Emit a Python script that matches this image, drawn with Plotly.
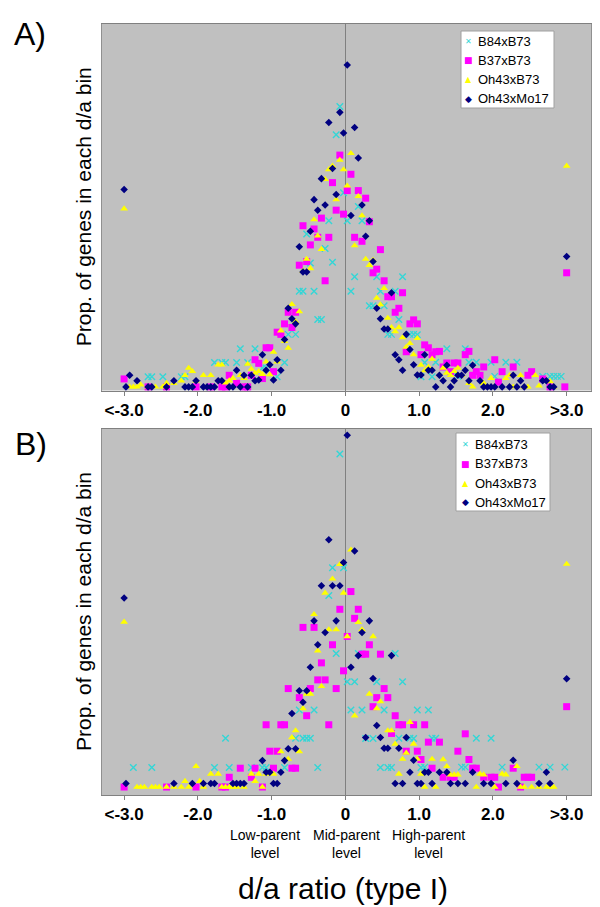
import plotly.graph_objects as go

N = None

# ---------------- data ----------------
# d/a bins of width 0.05 from -3.0 to 3.0 (bin centres), plus the two open-ended bins
BIN_CENTERS = [round(-2.975 + 0.05 * k, 3) for k in range(120)]
OUTLIER_X = [-3.0, 3.0]            # "<-3.0" and ">3.0" bins
TICK_VALS = [-3, -2, -1, 0, 1, 2, 3]
TICK_TEXT = ["&lt;-3.0", "-2.0", "-1.0", "0", "1.0", "2.0", "&gt;3.0"]
SERIES_NAMES = ["B84xB73", "B37xB73", "Oh43xB73", "Oh43xMo17"]

# Panel A: proportion of genes (%) per bin
A_B84 = [
    N, N, N, N, N, N, 0.28, 0.28, N, N,
    0.28, N, N, N, N, 0.28, 0.28, N, N, N,
    N, N, N, N, 0.67, N, 0.67, 0.67, N, N,
    0.67, 1.05, N, 0.67, N, 1.05, N, 0.52, 0.52, N,
    N, 0.28, N, 0.67, 1.45, N, 1.45, 2.64, 2.64, 4.22,
    3.42, 2.64, 1.86, 1.86, 3.82, 4.59, 3.44, 6.96, 7.74, 5.36,
    4.59, 2.64, 3.04, 4.98, 4.59, N, 2.24, 2.24, 3.04, 2.64,
    2.24, 1.45, 1.45, 2.64, 1.86, 3.04, N, 1.45, 1.45, 1.44,
    0.28, 0.67, N, 0.28, 0.68, N, N, 1.05, N, N,
    0.29, N, 1.05, 0.68, N, 0.68, N, N, N, 0.68,
    0.29, N, N, 0.68, N, N, 0.68, N, N, N,
    N, N, N, 0.29, N, 0.29, 0.29, 0.29, 0.29, N,
]
A_B84_OUT = [N, N]

A_B37 = [
    N, N, N, N, N, N, 0, N, N, N,
    N, 0, N, N, N, N, N, N, N, 0,
    N, N, N, 0, N, N, 0, 0, 0.32, N,
    0.1, N, 0, 0, 0.32, 0.75, 0.65, 0.23, 1.08, 1.08,
    0.42, 1.51, 1.45, 1.74, 2.06, 1.64, 2.06, 3.36, 4.45, 3.46,
    3.92, 4.36, 4.13, 4.66, 2.93, 4.13, 5.64, 4.88, 6.40, 4.77,
    5.42, 5.87, 4.13, 5.42, 4.02, 5.21, 4.56, 3.15, 3.25, 3.79,
    2.93, 2.49, 2.49, 2.06, 2.17, 2.60, 0.97, 1.74, 1.85, 1.74,
    0.89, 1.16, 1.08, 0.89, 0.97, 0.98, 0.55, 0.66, 0.42, 0.66,
    0.66, N, 0.89, 0.98, 0.32, 0.42, 0.32, 0.55, N, N,
    0.75, 0.13, 0.42, N, N, 0.55, N, N, N, 0.32,
    0.42, N, N, 0.22, N, 0, N, N, N, 0,
]
A_B37_OUT = [0.22, 3.15]

A_OH43B73 = [
    N, 0, 0, 0, 0.06, N, 0, N, 0, N,
    0, 0.1, N, 0.1, N, 0.17, 0.32, 0.52, 0.43, 0.17,
    N, 0.32, N, 0.32, N, 0.61, 0.61, 0.11, 0.17, 0.24,
    N, 0.32, 0.24, 0.63, 0.49, 0.38, 0.43, 0.35, 0.69, 0.34,
    0.96, 0.69, 1.55, 1.26, 1.07, 2.28, 1.80, 2.08, 3.2, 3.53,
    3.27, 4.62, 4.17, 3.80, 5.73, 6.0, 6.1, 5.17, 6.26, 6.0,
    5.55, 6.45, 3.90, 5.26, 4.73, 3.53, 3.36, 3.5, 2.45, 2.27,
    2.72, 1.90, 1.64, 1.53, 1.64, 1.36, 1.1, 1.2, 0.89, 1.34,
    0.6, 0.45, 0.55, 0.77, N, N, 0.52, 0.38, 0.32, 0.43,
    0.52, 0.32, N, 0.1, 0, N, N, 0.1, N, 0.24,
    N, N, N, 0.24, 0.32, 0, N, 0.32, 0, 0,
    N, 0.32, 0.03, N, N, 0.15, 0, N, N, N,
]
A_OH43B73_OUT = [4.92, 6.1]

A_OH43MO17 = [
    0, 0.32, N, 0.17, N, N, 0, 0, N, N,
    N, 0, N, 0.17, N, N, 0, 0, 0, 0.17,
    N, 0, 0, 0, 0, 0.17, 0.17, N, 0, 0,
    0.46, 0, 0.32, 0, 0.32, 0.17, 0.19, 0.89, 0.46, 0.61,
    0.19, 0.75, 0.46, 1.31, 2.17, 1.88, 1.74, 3.87, 3.17, 3.17,
    4.30, 5.17, 4.88, 5.75, 5.02, 7.30, 6.03, 5.31, 7.58, 7.01,
    8.89, 4.73, 7.16, 6.32, 5.02, 4.16, 4.59, 3.46, 2.17, 1.88,
    1.60, 1.60, 2.60, 0.89, 0.75, 0.46, 1.45, 1.03, 0.61, 0.33,
    0.33, 0.89, 0.46, 0.46, 0, 0.32, 0.17, 0.60, 0, 0.17,
    0.32, 0.32, 0.46, 0.17, 0.60, N, 0.17, 0, 0, 0,
    0, N, 0, N, 0, 0.32, 0, 0.17, 0, N,
    N, N, N, 0.17, 0.17, 0, 0, N, N, N,
]
A_OH43MO17_OUT = [5.45, 3.6]

# Panel B
B_B84 = [
    N, N, 0.54, N, N, N, N, 0.54, N, N,
    N, N, N, N, N, N, N, N, N, N,
    N, N, N, N, 0.54, N, N, 1.35, 0.54, N,
    N, N, N, N, 0.54, N, N, 0.54, 0.54, N,
    N, N, N, 0.54, N, N, 1.35, 2.13, 1.35, 1.35,
    1.35, 2.13, 0.54, N, N, 5.29, 6.06, 3.69, 9.20, 6.06,
    2.91, 2.13, 2.91, 3.69, 2.13, 1.34, N, 1.34, 2.91, 0.54,
    2.13, 0.54, 0.54, 3.69, 1.35, 2.91, N, 1.35, 1.34, 2.13,
    0.54, 0.55, 2.13, 1.35, 1.35, N, N, N, N, N,
    N, 0.55, 0.55, N, N, 1.35, N, N, N, 1.35,
    N, N, 0.55, N, N, N, N, N, N, N,
    N, N, 0.55, N, N, 0.55, N, N, N, 0.55,
]
B_B84_OUT = [N, N]

B_B37 = [
    N, N, N, N, N, N, N, N, N, N,
    N, 0, N, N, N, N, N, N, N, 0,
    N, N, N, N, N, N, 0, 0, 0.27, N,
    N, 0.52, N, N, 0.27, 0.52, N, 0, 1.72, 0.99,
    0.52, 0.99, 1.72, 1.72, 2.72, 0.52, 0.52, 2.47, 4.41, 1.97,
    2.72, 4.41, 2.96, 3.43, 2.96, 1.72, 3.93, 2.72, 4.91, 3.21,
    4.16, 5.40, 4.66, 4.91, 3.67, 3.67, 3.93, 2.22, 2.47, 3.67,
    2.72, 2.47, 1.48, 1.97, 1.72, 1.72, 0.99, N, 1.72, 0.99,
    0.76, 1.72, 1.24, 0.52, N, 1.24, 0.27, N, 0.27, 0.27,
    0.99, N, 1.47, 0.76, 0.52, 0.52, N, 0.27, N, 0.27,
    0.27, 0, N, N, N, 0.52, N, 0, 0.27, 0.27,
    0.27, N, N, N, N, N, N, N, N, N,
]
B_B37_OUT = [0, 2.22]

B_OH43B73 = [
    N, N, N, 0, 0, 0, N, 0, 0, 0,
    N, 0, N, 0, N, 0, 0.16, 0, N, 0.57,
    0.16, 0, N, 0.36, N, 0.36, 0, 0, 0, 0,
    0, N, 0, N, 0.36, 0.16, 0.36, 0, 0.36, N,
    0.36, N, 0.98, N, 0.77, 1.37, 1.56, 0.98, 2.17, 2.57,
    2.57, 4.77, 3.76, 2.78, 5.36, 4.35, 5.75, 4.35, 6.15, 5.36,
    4.16, 6.55, 1.97, 4.55, 4.35, N, 2.57, 4.16, 2.17, 2.36,
    N, 1.56, 1.56, 1.19, 0.36, 0.77, 0.94, 1.79, 1.19, 0.77,
    0.36, 0, N, 0.77, 0, N, 0.76, 0.57, 0.34, 0.34,
    0.34, N, N, N, N, 0, 0.36, 0.34, N, N,
    0, N, 0.36, 0.34, N, N, 0.57, 0, 0, N,
    0, N, 0, N, 0, 0, 0, N, N, N,
]
B_OH43B73_OUT = [4.56, 6.16]

B_OH43MO17 = [
    0.1, N, N, N, N, N, N, N, N, N,
    N, N, N, 0.1, N, N, N, N, 0.1, N,
    N, 0.1, N, 0.1, 0.1, N, N, N, N, 0.1,
    0.1, 0.1, 0.1, N, N, N, N, 0.73, 0.41, 0.41,
    0.1, 0.1, 0.41, 0.73, 1.06, 2.03, 1.06, 2.66, 2.34, 2.66,
    3.31, 4.59, 3.93, 5.56, 4.27, 6.83, 5.56, 4.59, 5.56, 6.20,
    9.72, 3.31, 6.52, 3.63, 4.27, 1.37, 4.59, 3.0, 1.70, 1.37,
    1.07, 1.07, 3.63, 0.1, 1.07, 0.1, 1.37, 0.41, 0.74, 0.1,
    0.1, 0.41, 0.41, 0.1, N, 0.41, N, 0.41, 0.1, N,
    0.1, N, 0.1, N, 0.41, N, N, 0.1, N, 0.1,
    N, N, N, 0.1, N, 0.74, 0.1, N, N, N,
    N, N, 0.1, N, 0.41, 0.1, N, N, N, N,
]
B_OH43MO17_OUT = [5.22, 2.99]

PANEL_A = [(A_B84, A_B84_OUT), (A_B37, A_B37_OUT), (A_OH43B73, A_OH43B73_OUT), (A_OH43MO17, A_OH43MO17_OUT)]
PANEL_B = [(B_B84, B_B84_OUT), (B_B37, B_B37_OUT), (B_OH43B73, B_OH43B73_OUT), (B_OH43MO17, B_OH43MO17_OUT)]

# ---------------- styling ----------------
W, H = 600, 907
ML, MR, MT, MB = 94, 17, 16, 120
PW = W - ML - MR
PH = H - MT - MB
BOTTOM_PX = H - MB


def pxx(x):
    return (x - ML) / PW


def pxy(y):
    return (BOTTOM_PX - y) / PH


STYLES = [
    dict(symbol="x-thin", size=6.5, color="#33D6D6", line=dict(width=1.4, color="#33D6D6")),
    dict(symbol="square", size=7, color="#FF00FF", line=dict(width=0)),
    dict(symbol="triangle-up", size=6.8, color="#FFFF00", line=dict(width=0)),
    dict(symbol="diamond", size=5.8, color="#000080", line=dict(width=0)),
]
GLYPHS = [("✕", "#33D6D6", 8), ("■", "#FF00FF", 9), ("▲", "#FFFF00", 8), ("◆", "#000080", 9)]

fig = go.Figure()
for panel, (xa, ya) in ((PANEL_A, ("x", "y")), (PANEL_B, ("x2", "y2"))):
    for name, (vals, outs), st in zip(SERIES_NAMES, panel, STYLES):
        fig.add_trace(go.Scatter(
            x=BIN_CENTERS + OUTLIER_X, y=vals + outs, mode="markers", name=name,
            marker=st, xaxis=xa, yaxis=ya, showlegend=False, cliponaxis=False,
        ))

top_a, bot_a = 16, 382.5
top_b, bot_b = 421, 787

xcommon = dict(
    range=[-3.30, 3.33], tickvals=TICK_VALS, ticktext=TICK_TEXT, ticks="outside",
    ticklen=4, tickcolor="#808080", showgrid=False, zeroline=True, zerolinecolor="#808080",
    zerolinewidth=1, showline=True, linecolor="#808080", linewidth=1, mirror=True,
    tickfont=dict(family="Arial", size=17, color="black", weight="bold"), fixedrange=True,
)
ycommon = dict(showticklabels=False, showgrid=False, zeroline=False, showline=True,
               linecolor="#909090", linewidth=1, mirror=True, ticks="", fixedrange=True)

fig.update_layout(
    width=W, height=H, margin=dict(l=ML, r=MR, t=MT, b=MB),
    paper_bgcolor="white", plot_bgcolor="#C0C0C0", showlegend=False,
    xaxis=dict(domain=[0, 1], anchor="y", **xcommon),
    yaxis=dict(domain=[pxy(bot_a), 1], anchor="x", range=[-0.10, 10.02], **ycommon),
    xaxis2=dict(domain=[0, 1], anchor="y2", **xcommon),
    yaxis2=dict(domain=[0, pxy(top_b)], anchor="x2", range=[-0.22, 9.89], **ycommon),
)

ann = []
font = dict(family="Arial", color="black")
# panel letters
ann.append(dict(text="A)", x=pxx(22), y=pxy(26), font=dict(size=32, **font)))
ann.append(dict(text="B)", x=pxx(23), y=pxy(436), font=dict(size=32, **font)))
# y titles
for cy in ((top_a + bot_a) / 2, (top_b + bot_b) / 2):
    ann.append(dict(text="Prop. of genes in each d/a bin", x=pxx(75), y=pxy(cy),
                    textangle=-90, font=dict(size=21, **font)))
# x title
ann.append(dict(text="d/a ratio (type I)", x=pxx(335), y=pxy(880), font=dict(size=30, **font)))
# level labels
for txt, cx in (("Low-parent<br>level", 257), ("Mid-parent<br>level", 338), ("High-parent<br>level", 420)):
    ann.append(dict(text=txt, x=pxx(cx), y=pxy(836), font=dict(size=14, **font)))

for a in ann:
    a.update(xref="paper", yref="paper", showarrow=False, xanchor="center", yanchor="middle")

shapes = []
legends = [
    dict(box=(453, 23, 546, 100), rows=(33.3, 52.3, 71.7, 90.7), gx=460.7, tx=468),
    dict(box=(448, 425, 542, 503), rows=(436, 455.7, 475, 494.3), gx=457, tx=465),
]
for lg in legends:
    x0, y0, x1, y1 = lg["box"]
    shapes.append(dict(type="rect", xref="paper", yref="paper", x0=pxx(x0), x1=pxx(x1),
                       y0=pxy(y1), y1=pxy(y0), fillcolor="white",
                       line=dict(color="#A0A0A0", width=1), layer="above"))
    for name, ry, (g, col, gs) in zip(SERIES_NAMES, lg["rows"], GLYPHS):
        ann.append(dict(text=g, x=pxx(lg["gx"]), y=pxy(ry), xref="paper", yref="paper",
                        showarrow=False, xanchor="center", yanchor="middle",
                        font=dict(family="DejaVu Sans", size=gs, color=col)))
        ann.append(dict(text=name, x=pxx(lg["tx"]), y=pxy(ry), xref="paper", yref="paper",
                        showarrow=False, xanchor="left", yanchor="middle",
                        font=dict(family="Arial", size=13, color="black")))

fig.update_layout(annotations=ann, shapes=shapes)
fig.write_html("out.html")
